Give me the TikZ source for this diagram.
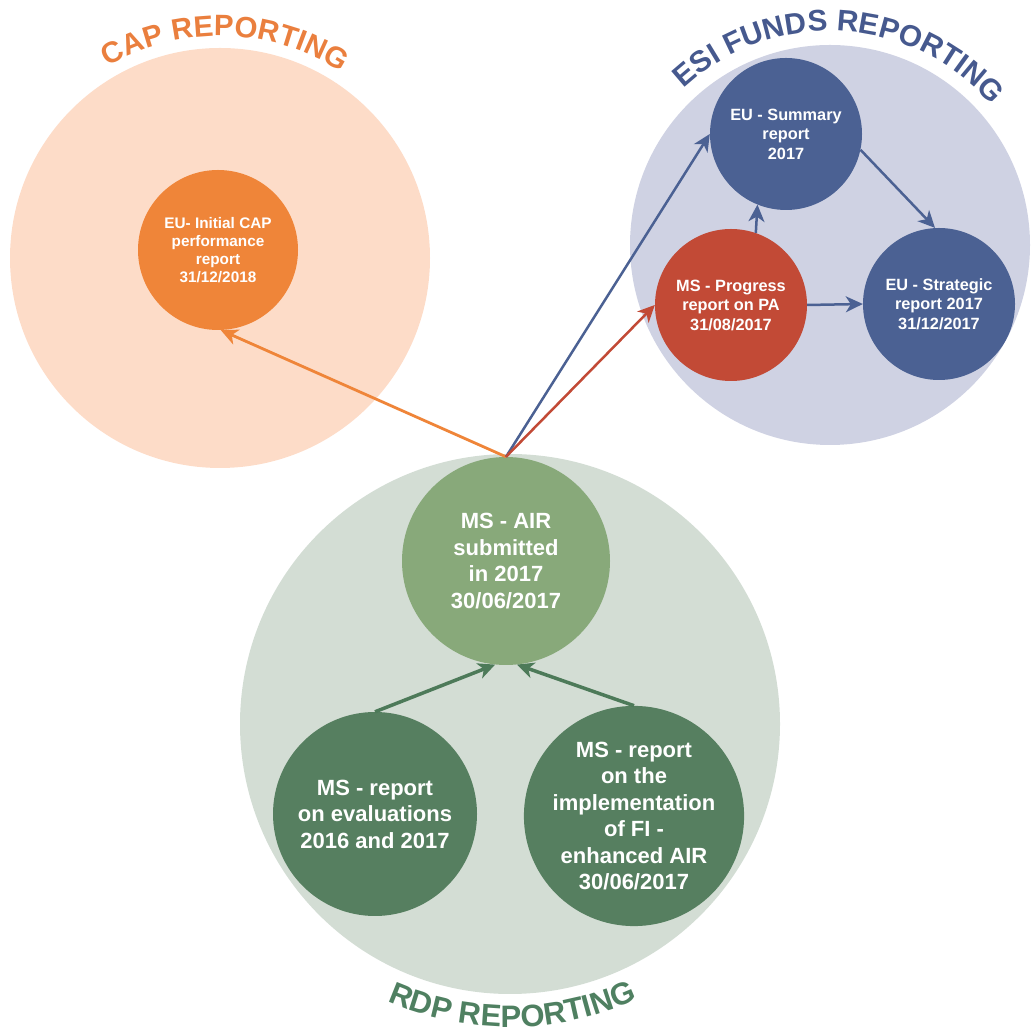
\documentclass[tikz,border=0pt]{standalone}
\usepackage{fontspec}
\setmainfont{Liberation Sans}
\usetikzlibrary{arrows.meta,decorations.text}

\definecolor{capBg}{HTML}{FDDCC8}
\definecolor{capNode}{HTML}{EF8539}
\definecolor{capTitle}{HTML}{EA7F3E}
\definecolor{esiBg}{HTML}{CFD2E3}
\definecolor{esiNode}{HTML}{4B6193}
\definecolor{esiTitle}{HTML}{46598E}
\definecolor{msRed}{HTML}{C24A36}
\definecolor{rdpBg}{HTML}{D3DDD4}
\definecolor{airNode}{HTML}{88A97A}
\definecolor{rdpNode}{HTML}{567F60}
\definecolor{rdpTitle}{HTML}{4F8061}
\definecolor{rdpArrow}{HTML}{4D7A59}

\tikzset{
  bigcircle/.style={circle, inner sep=0pt, minimum size=#1},
  repnode/.style={circle, inner sep=0pt, text=white, align=center},
  fsmall/.style={font=\bfseries\fontsize{15.3}{18}\selectfont},
  fmid/.style={font=\bfseries\fontsize{16.3}{19.5}\selectfont},
  fbig/.style={font=\bfseries\fontsize{22}{26.5}\selectfont},
  conn/.style={-{Stealth[length=17pt,width=16pt,inset=5pt]}, line width=#1},
  conn/.default=2.6pt,
  titletext/.style n args={3}{decorate, decoration={text along path, text align=center, text color=#1,
      text={|\bfseries\fontsize{#3}{#3}\selectfont|#2}}}
}

\begin{document}
\begin{tikzpicture}[x=1pt,y=1pt]
\useasboundingbox (0,0) rectangle (1032,1033);

% background circles
\node[bigcircle=420pt, fill=capBg] (capbg) at (220,775) {};
\node[bigcircle=400pt, fill=esiBg] (esibg) at (830,788) {};
\node[bigcircle=540pt, fill=rdpBg] (rdpbg) at (510,309) {};

% titles
\path[titletext={capTitle}{CAP REPORTING}{29.5}] (220,775) ++(148.6:222) arc[start angle=148.6, end angle=28.6, radius=222];
\path[titletext={esiTitle}{ESI FUNDS REPORTING}{29.8}] (830,788) ++(139:214) arc[start angle=139, end angle=35, radius=214];
\path[titletext={rdpTitle}{RDP REPORTING}{31}] (510,309) ++(210.5:303) arc[start angle=210.5, end angle=330.5, radius=303];

% report nodes
\node[repnode, fsmall, fill=capNode, minimum size=160pt] (cap) at (218,783)
  {EU- Initial CAP\\performance\\report\\31/12/2018};
\node[repnode, fmid, fill=esiNode, minimum size=152pt] (sum) at (786,899)
  {EU - Summary\\report\\2017};
\node[repnode, fmid, fill=msRed, minimum size=152pt] (prog) at (731,728)
  {MS - Progress\\report on PA\\31/08/2017};
\node[repnode, fmid, fill=esiNode, minimum size=152pt] (strat) at (939,729)
  {EU - Strategic\\report 2017\\31/12/2017};
\node[repnode, fbig, fill=airNode, minimum size=208pt] (air) at (506,472)
  {MS - AIR\\submitted\\in 2017\\30/06/2017};
\node[repnode, fbig, fill=rdpNode, minimum size=204pt] (eval) at (375,219)
  {MS - report\\on evaluations\\2016 and 2017};
\node[repnode, fbig, fill=rdpNode, minimum size=207pt] (fi) at (634,217)
  {MS - report\\on the\\implementation\\of FI -\\enhanced AIR\\30/06/2017};

% connectors
\draw[conn=2.8pt, capNode] (air.north) -- (cap.-88);
\draw[conn=2.5pt, esiNode] (air.north) -- (sum.west);
\draw[conn=2.5pt, msRed] (air.north) -- (prog.west);
\draw[conn=2.5pt, esiNode] (prog.71) -- (sum.248);
\draw[conn=2.5pt, esiNode] (sum.-12) -- (strat.93);
\draw[conn=2.5pt, esiNode] (prog.east) -- (strat.west);
\draw[conn=3.5pt, rdpArrow] (eval.north) -- (air.264);
\draw[conn=3.5pt, rdpArrow] (fi.north) -- (air.276);
\end{tikzpicture}
\end{document}
